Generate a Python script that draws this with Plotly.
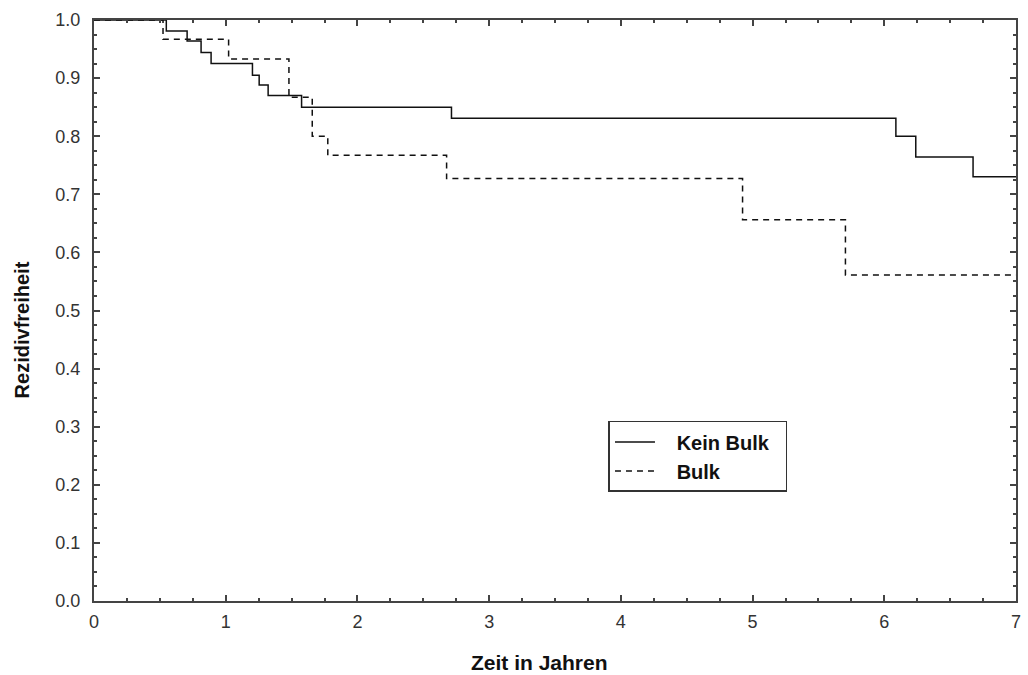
import plotly.graph_objects as go

# Kaplan-Meier step data
kein_t = [0.0, 0.549, 0.707, 0.813, 0.889, 1.203, 1.254, 1.322, 1.576, 2.714, 6.088, 6.239, 6.674, 7.0]
kein_s = [1.0, 0.981, 0.964, 0.944, 0.925, 0.905, 0.888, 0.870, 0.850, 0.831, 0.800, 0.764, 0.730, 0.730]

bulk_t = [0.0, 0.524, 1.022, 1.480, 1.657, 1.775, 2.677, 4.924, 5.705, 7.0]
bulk_s = [1.0, 0.967, 0.933, 0.867, 0.800, 0.767, 0.727, 0.656, 0.561, 0.561]

x_ticks = [0, 1, 2, 3, 4, 5, 6, 7]
y_ticks = [0.0, 0.1, 0.2, 0.3, 0.4, 0.5, 0.6, 0.7, 0.8, 0.9, 1.0]
y_labels = [f"{v:.1f}" for v in y_ticks]

fig = go.Figure()
fig.add_trace(go.Scatter(x=kein_t, y=kein_s, mode="lines",
                         name="&nbsp;&nbsp;&nbsp;<b>Kein Bulk</b>&nbsp;&nbsp;",
                         line=dict(shape="hv", color="#111111", width=1.5)))
fig.add_trace(go.Scatter(x=bulk_t, y=bulk_s, mode="lines",
                         name="&nbsp;&nbsp;&nbsp;<b>Bulk</b>",
                         line=dict(shape="hv", color="#111111", width=1.5, dash="6px,5px")))

axis_common = dict(showline=True, linecolor="#444444", linewidth=2, mirror="ticks",
                   ticks="inside", ticklen=6, tickcolor="#444444", tickwidth=1.5,
                   showgrid=False, zeroline=False,
                   tickfont=dict(family="Liberation Sans, Arial", size=18, color="#333333"))

fig.update_xaxes(range=[0, 7], tickvals=x_ticks, ticktext=[str(v) for v in x_ticks],
                 ticklabelstandoff=3,
                 minor=dict(dtick=0.25, ticks="inside", ticklen=3, tickcolor="#444444", tickwidth=1.5),
                 **axis_common)
fig.update_yaxes(range=[0, 1.0], tickvals=y_ticks, ticktext=y_labels,
                 ticklabelstandoff=8,
                 minor=dict(dtick=0.025, ticks="inside", ticklen=3, tickcolor="#444444", tickwidth=1.5),
                 **axis_common)

fig.add_annotation(text="<b>Zeit in Jahren</b>", xref="paper", yref="paper",
                   x=0.4833, y=-0.105, showarrow=False, xanchor="center", yanchor="middle",
                   font=dict(family="Liberation Sans, Arial", size=21, color="#111111"))
fig.add_annotation(text="<b>Rezidivfreiheit</b>", xref="paper", yref="paper",
                   x=-0.0777, y=0.4664, showarrow=False, xanchor="center", yanchor="middle",
                   textangle=-90,
                   font=dict(family="Liberation Sans, Arial", size=20, color="#111111"))

fig.update_layout(
    width=1028, height=675,
    margin=dict(l=94, r=7, t=20, b=74),
    paper_bgcolor="white", plot_bgcolor="white",
    legend=dict(x=0.558, y=0.31, xanchor="left", yanchor="top",
                bordercolor="#333333", borderwidth=1.5, bgcolor="white",
                font=dict(family="Liberation Sans, Arial", size=20, color="#111111"),
                itemwidth=40),
    showlegend=True,
)

fig.write_html("out.html")
